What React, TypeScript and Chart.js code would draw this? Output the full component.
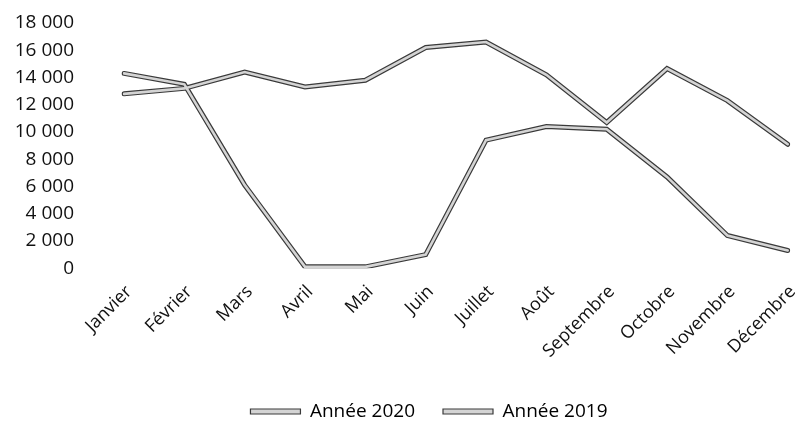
import React, { useEffect, useRef } from "react";
import { Chart, registerables } from "chart.js";

Chart.register(...registerables);

const months = ["Janvier", "Février", "Mars", "Avril", "Mai", "Juin", "Juillet", "Août", "Septembre", "Octobre", "Novembre", "Décembre"];
const values2020 = [14300, 13500, 6100, 100, 100, 1000, 9400, 10400, 10200, 6700, 2400, 1300];
const values2019 = [12800, 13200, 14400, 13300, 13800, 16200, 16600, 14200, 10700, 14650, 12300, 9100];
const seriesNames = ["Année 2020", "Année 2019"];

const OUTLINE = "#3a3a3a";
const INNER = "#d4d4d4";

const legendShift = {
  id: "legendShift",
  afterLayout(chart: any) {
    const lg = chart.legend;
    if (lg) {
      lg.left += 28;
      lg.right += 28;
      lg.top += 10;
      lg.bottom += 10;
    }
  },
};

export default function App() {
  const ref = useRef<HTMLCanvasElement | null>(null);
  useEffect(() => {
    document.body.style.margin = "0";
    const ctx = ref.current!;
    const mk = (label: string, data: number[], outline: boolean) => ({
      label,
      data,
      borderColor: outline ? OUTLINE : INNER,
      backgroundColor: outline ? OUTLINE : INNER,
      borderWidth: outline ? 5 : 2.6,
      pointRadius: 0,
      tension: 0,
      fill: false,
      borderJoinStyle: "miter" as const,
      borderCapStyle: "round" as const,
      order: outline ? 1 : 0,
    });
    const chart = new Chart(ctx, {
      type: "line",
      data: {
        labels: months,
        datasets: [
          mk(seriesNames[0], values2020, false),
          mk(seriesNames[0], values2020, true),
          mk(seriesNames[1], values2019, false),
          mk(seriesNames[1], values2019, true),
        ] as any,
      },
      plugins: [legendShift],
      options: {
        animation: false,
        responsive: false,
        maintainAspectRatio: false,
        layout: { padding: { top: 23, right: 6, left: 0, bottom: 2 } },
        plugins: {
          tooltip: { enabled: false },
          legend: {
            position: "bottom",
            labels: {
              font: { family: "Open Sans", size: 19 },
              color: "#111",
              boxWidth: 50,
              boxHeight: 5,
              padding: 28,
              generateLabels: () =>
                seriesNames.map((n, i) => ({
                  text: n,
                  fillStyle: INNER,
                  strokeStyle: OUTLINE,
                  lineWidth: 1.2,
                  hidden: false,
                  datasetIndex: i * 2,
                })),
            },
          },
        },
        scales: {
          x: {
            offset: false,
            grid: { display: false },
            border: { display: false },
            afterFit: (s: any) => {
              s.height -= 3;
            },
            ticks: {
              maxRotation: 45,
              minRotation: 45,
              autoSkip: false,
              color: "#111",
              font: { family: "Open Sans", size: 18 },
              padding: 5,
              labelOffset: 5,
            },
          },
          y: {
            min: 0,
            max: 18000,
            afterFit: (s: any) => {
              s.width = 124;
            },
            grid: { display: false, drawTicks: true, tickLength: 47 },
            border: { display: false },
            ticks: {
              stepSize: 2000,
              autoSkip: false,
              color: "#111",
              padding: 3,
              font: { family: "Open Sans", size: 19 },
              callback: (v: any) => Number(v).toLocaleString("fr-FR").replace(/\u202f|\u00a0/g, " "),
            },
          },
        },
      },
    } as any);
    return () => chart.destroy();
  }, []);
  return (
    <div style={{ width: 808, height: 423 }}>
      <canvas ref={ref} width={808} height={423} style={{ display: "block" }} />
    </div>
  );
}
